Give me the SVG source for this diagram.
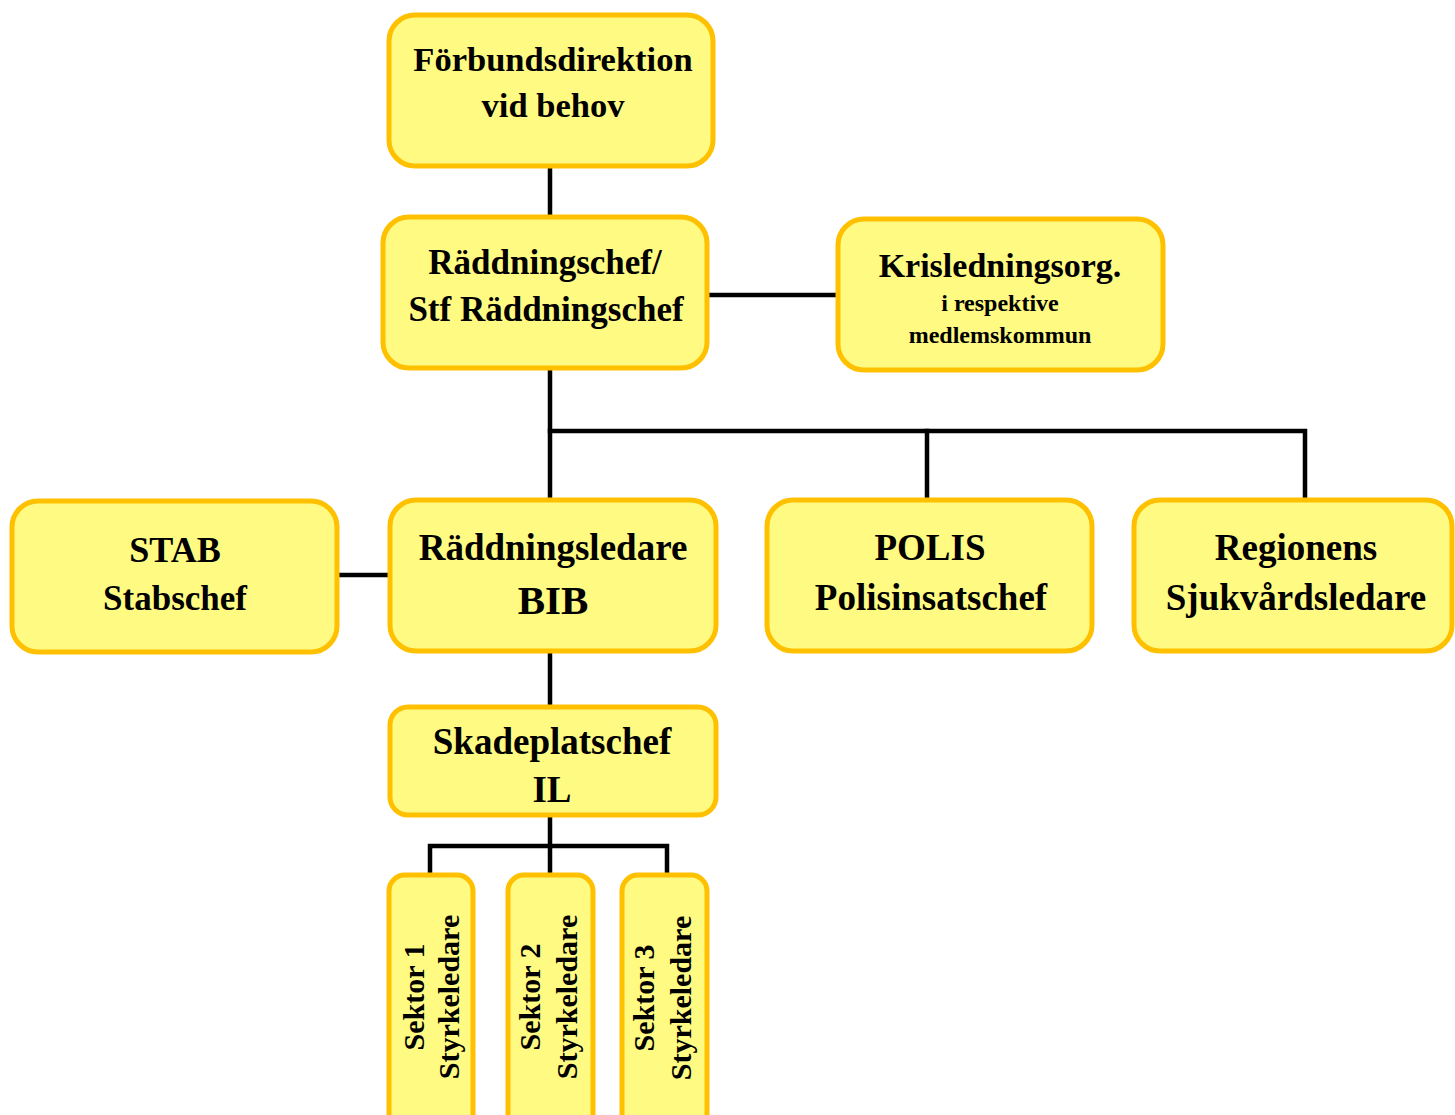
<svg xmlns="http://www.w3.org/2000/svg" width="1455" height="1115" viewBox="0 0 1455 1115">
<style>
.box{fill:#FFFA82;stroke:#FFC000;stroke-width:5}
.t{font-family:"Liberation Serif","Times New Roman",serif;font-weight:bold;fill:#000;text-anchor:middle}
.c{stroke:#000;stroke-width:4.5;fill:none;stroke-linecap:square}
</style>
<rect width="1455" height="1115" fill="#fff"/>
<g id="connectors">
<line class="c" x1="550" y1="166" x2="550" y2="217"/>
<line class="c" x1="707" y1="295" x2="838" y2="295"/>
<line class="c" x1="550" y1="368" x2="550" y2="500"/>
<polyline class="c" points="550,431 1305,431 1305,500"/>
<line class="c" x1="927" y1="431" x2="927" y2="500"/>
<line class="c" x1="337" y1="575" x2="390" y2="575"/>
<line class="c" x1="550" y1="651" x2="550" y2="707"/>
<line class="c" x1="550" y1="815" x2="550" y2="875"/>
<polyline class="c" points="430,875 430,846 667,846 667,875"/>
</g>
<g id="forbundsdirektion">
<rect class="box" x="389" y="15" width="324" height="151" rx="26"/>
<text class="t" x="553" y="71" font-size="34.5">Förbundsdirektion</text>
<text class="t" x="553" y="117" font-size="34.5">vid behov</text>
</g>
<g id="raddningschef">
<rect class="box" x="383" y="217" width="324" height="151" rx="26"/>
<text class="t" x="545" y="274" font-size="35">Räddningschef/</text>
<text class="t" x="546" y="321" font-size="35">Stf Räddningschef</text>
</g>
<g id="krisledning">
<rect class="box" x="838" y="219" width="325" height="151" rx="26"/>
<text class="t" x="1000" y="277" font-size="34">Krisledningsorg.</text>
<text class="t" x="1000" y="311" font-size="24">i respektive</text>
<text class="t" x="1000" y="343" font-size="24">medlemskommun</text>
</g>
<g id="stab">
<rect class="box" x="12" y="501" width="325" height="151" rx="26"/>
<text class="t" x="175" y="562" font-size="36">STAB</text>
<text class="t" x="175" y="610" font-size="35">Stabschef</text>
</g>
<g id="raddningsledare">
<rect class="box" x="390" y="500" width="326" height="151" rx="26"/>
<text class="t" x="553" y="560" font-size="37">Räddningsledare</text>
<text class="t" x="553" y="614" font-size="41">BIB</text>
</g>
<g id="polis">
<rect class="box" x="767" y="500" width="325" height="151" rx="26"/>
<text class="t" x="930" y="560" font-size="37">POLIS</text>
<text class="t" x="931" y="610" font-size="37">Polisinsatschef</text>
</g>
<g id="regionens">
<rect class="box" x="1134" y="500" width="318" height="151" rx="26"/>
<text class="t" x="1296" y="560" font-size="37">Regionens</text>
<text class="t" x="1296" y="610" font-size="37">Sjukvårdsledare</text>
</g>
<g id="skadeplatschef">
<rect class="box" x="390" y="707" width="326" height="108" rx="18"/>
<text class="t" x="552" y="754" font-size="37">Skadeplatschef</text>
<text class="t" x="552" y="802" font-size="37">IL</text>
</g>
<g id="sektor1">
<rect class="box" x="389" y="875" width="84" height="260" rx="16"/>
<text class="t" transform="translate(424,997) rotate(-90)" font-size="30">Sektor 1</text>
<text class="t" transform="translate(459,997) rotate(-90)" font-size="30">Styrkeledare</text>
</g>
<g id="sektor2">
<rect class="box" x="508" y="875" width="85" height="260" rx="16"/>
<text class="t" transform="translate(540,997) rotate(-90)" font-size="30">Sektor 2</text>
<text class="t" transform="translate(577,997) rotate(-90)" font-size="30">Styrkeledare</text>
</g>
<g id="sektor3">
<rect class="box" x="622" y="875" width="85" height="260" rx="16"/>
<text class="t" transform="translate(654,998) rotate(-90)" font-size="30">Sektor 3</text>
<text class="t" transform="translate(691,998) rotate(-90)" font-size="30">Styrkeledare</text>
</g>
</svg>
